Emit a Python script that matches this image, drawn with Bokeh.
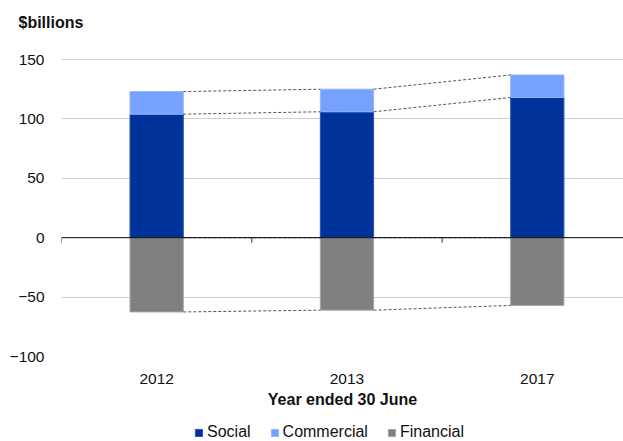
from bokeh.plotting import figure
from bokeh.layouts import column
from bokeh.models import (ColumnDataSource, Range1d, FixedTicker, Legend,
                          LegendItem, Span)
from bokeh.embed import file_html
from bokeh.resources import INLINE
import numpy as np

# ---- data ----
years = ["2012", "2013", "2017"]
social = [104, 106, 118]
commercial = [19, 19, 19]
financial = [-62.5, -61, -57]
y_ticks = [-100, -50, 0, 50, 100, 150]
series = ["Social", "Commercial", "Financial"]

FONT = "Liberation Sans"
C_SOC = "#003399"
C_COM = "#76A1FF"
C_FIN = "#808080"
E_SOC = "#2a55b5"
E_COM = "#94B6FF"
E_FIN = "#A6A6A6"

x = np.arange(len(years)) + 0.5
w = 0.28
soc = np.array(social, dtype=float)
com = np.array(commercial, dtype=float)
fin = np.array(financial, dtype=float)

# frame spans 35..356 px; 150 gridline sits at ~59 px
px_per_unit = 297 / 250
y_top = -100 + (356 - 35) / px_per_unit

p = figure(width=623, height=411, output_backend="svg", toolbar_location=None,
           x_range=Range1d(0, 2.953), y_range=Range1d(-100, y_top),
           min_border_left=61, min_border_right=0, min_border_top=35, min_border_bottom=55)
p.outline_line_color = None
p.background_fill_color = "white"
p.border_fill_color = "white"

p.title.text = "$billions"
p.title.align = "left"
p.title.vertical_align = "bottom"
p.title.offset = -43
p.title.standoff = 10
p.title.text_font = FONT
p.title.text_font_size = "16px"
p.title.text_font_style = "bold"
p.title.text_color = "#111111"

src = ColumnDataSource(dict(x=x, soc=soc, tot=soc + com, fin=fin, zero=np.zeros(len(x))))
p.vbar(x="x", width=w, bottom="zero", top="soc", source=src,
       fill_color=C_SOC, line_color=E_SOC, line_width=1)
p.vbar(x="x", width=w, bottom="soc", top="tot", source=src,
       fill_color=C_COM, line_color=E_COM, line_width=1)
p.vbar(x="x", width=w, bottom="fin", top="zero", source=src,
       fill_color=C_FIN, line_color=E_FIN, line_width=1)

# series lines between adjacent bars
x0 = x[:-1] + w / 2
x1 = x[1:] - w / 2
for lvl in [soc, soc + com, fin, np.zeros(len(x))]:
    p.segment(x0=x0, y0=lvl[:-1], x1=x1, y1=lvl[1:], line_color="#555555",
              line_width=1, line_dash="3 2")

# zero line and category separator ticks
p.add_layout(Span(location=0, dimension="width", line_color="black", line_width=1))
sep = np.arange(len(years), dtype=float)
tick_len = 5 / px_per_unit
p.segment(x0=sep, y0=np.zeros(len(sep)), x1=sep, y1=-tick_len * np.ones(len(sep)),
          line_color="#333333", line_width=1)

# y axis
p.yaxis.ticker = FixedTicker(ticks=y_ticks)
p.yaxis.axis_line_color = None
p.yaxis.major_tick_line_color = None
p.yaxis.minor_tick_line_color = None
p.yaxis.major_label_standoff = 11
p.yaxis.major_label_text_font = FONT
p.yaxis.major_label_text_font_size = "15.5px"
p.yaxis.major_label_text_color = "#111111"
p.ygrid.ticker = FixedTicker(ticks=[t for t in y_ticks if t != 0])
p.ygrid.grid_line_color = "#D0D0D0"
p.ygrid.grid_line_width = 1
p.xgrid.grid_line_color = None

# x axis (labels only)
p.xaxis.ticker = FixedTicker(ticks=list(x))
p.xaxis.major_label_overrides = {float(v): yr for v, yr in zip(x, years)}
p.xaxis.axis_line_color = None
p.xaxis.major_tick_line_color = None
p.xaxis.minor_tick_line_color = None
p.xaxis.major_label_standoff = 11
p.xaxis.major_label_text_font = FONT
p.xaxis.major_label_text_font_size = "15.5px"
p.xaxis.major_label_text_color = "#111111"
p.xaxis.axis_label = "Year ended 30 June"
p.xaxis.axis_label_text_font = FONT
p.xaxis.axis_label_text_font_size = "16px"
p.xaxis.axis_label_text_font_style = "bold"
p.xaxis.axis_label_text_color = "#111111"
p.xaxis.axis_label_standoff = 4

# legend strip
lg = figure(width=623, height=30, output_backend="svg", toolbar_location=None,
            x_range=Range1d(0, 1), y_range=Range1d(0, 1),
            min_border_left=0, min_border_right=0, min_border_top=0, min_border_bottom=0)
lg.outline_line_color = None
lg.axis.visible = False
lg.grid.visible = False
# one off-range bar per series so the legend swatches get drawn
off = ColumnDataSource(dict(x=[5.0], top=[0.5]))
rs = []
for fc, ec in [(C_SOC, E_SOC), (C_COM, E_COM), (C_FIN, E_FIN)]:
    rs.append(lg.vbar(x="x", top="top", width=0.1, source=off,
                      fill_color=fc, line_color=ec, line_width=1))
legend = Legend(items=[LegendItem(label=s, renderers=[r]) for s, r in zip(series, rs)],
                orientation="horizontal", location=(133, 0),
                glyph_width=9, glyph_height=9, label_standoff=4, spacing=19,
                label_height=16, label_text_font=FONT, label_text_font_size="16px",
                label_text_color="#111111", border_line_color=None,
                background_fill_alpha=0, padding=0, margin=0)
lg.add_layout(legend, "center")

layout = column(p, lg, spacing=0)
open("out.html", "w").write(file_html(layout, INLINE))
